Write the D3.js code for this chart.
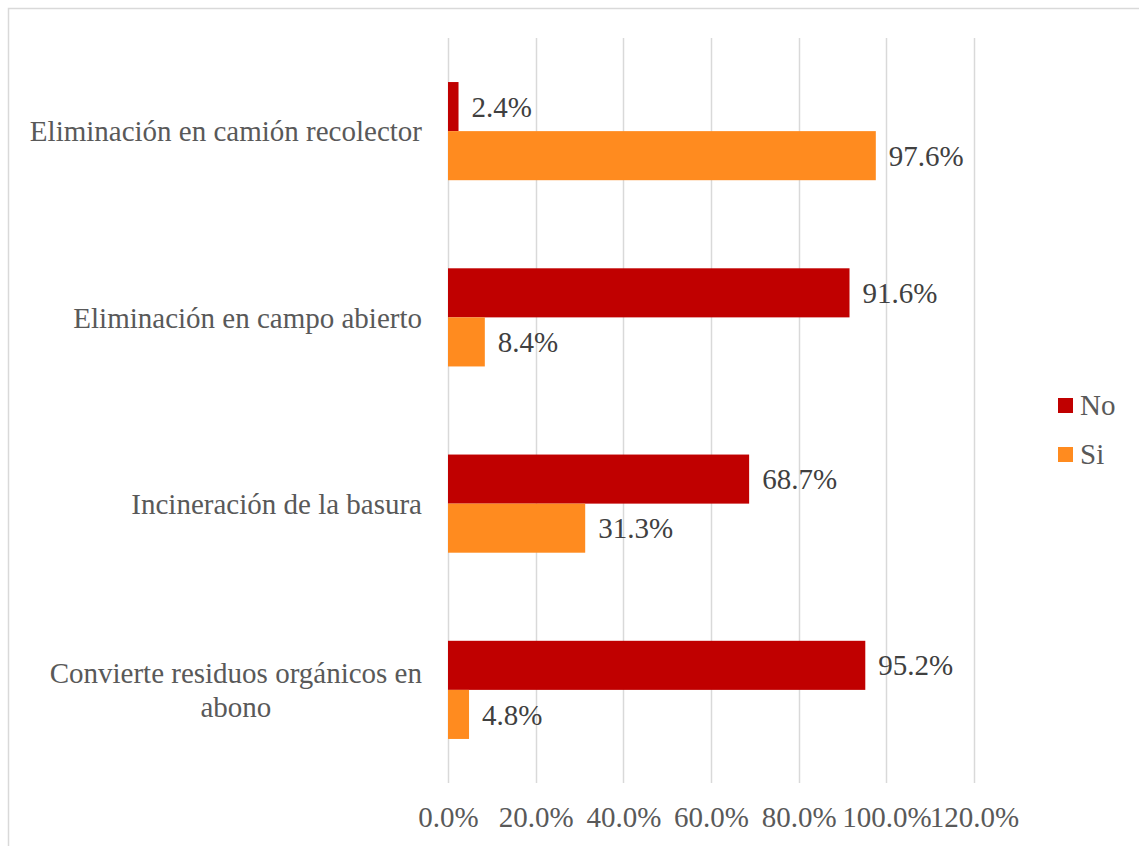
<!DOCTYPE html>
<html>
<head>
<meta charset="utf-8">
<script src="https://cdn.jsdelivr.net/npm/d3@7"></script>
<style>
  body { margin: 0; background: #fff; }
  text { font-family: "Liberation Serif", "Times New Roman", serif; }
</style>
</head>
<body>
<div id="chart"></div>
<script>
// data
var categories = [
  "Eliminación en camión recolector",
  "Eliminación en campo abierto",
  "Incineración de la basura",
  "Convierte residuos orgánicos en abono"
];
var seriesNames = ["No", "Si"];
var noValues = [0.024, 0.916, 0.687, 0.952];
var siValues = [0.976, 0.084, 0.313, 0.048];
var xTicks = [0, 0.2, 0.4, 0.6, 0.8, 1.0, 1.2];
var colors = ["#c00000", "#ff8b1f"];

var width = 1139, height = 846;
var fontSize = 29;

var svg = d3.select("#chart").append("svg")
  .attr("width", width)
  .attr("height", height);

// chart border (right/bottom run off the picture)
svg.append("rect")
  .attr("x", 8.5).attr("y", 8.5)
  .attr("width", 1200).attr("height", 900)
  .attr("fill", "#fff")
  .attr("stroke", "#d9d9d9")
  .attr("stroke-width", 1.5);

var x = d3.scaleLinear()
  .domain([0, 1.2])
  .range([448, 974]);

var y = d3.scaleBand()
  .domain(categories)
  .range([38, 783])
  .paddingInner(0.473)
  .paddingOuter(0.2365);

var ySub = d3.scaleBand()
  .domain(seriesNames)
  .range([0, y.bandwidth()]);

// gridlines
svg.append("g")
  .selectAll("line")
  .data(xTicks)
  .enter().append("line")
  .attr("x1", function(d) { return Math.round(x(d)) + 0.5; })
  .attr("x2", function(d) { return Math.round(x(d)) + 0.5; })
  .attr("y1", 38)
  .attr("y2", 783)
  .attr("stroke", "#d9d9d9")
  .attr("stroke-width", 1.5);

// x axis tick labels
var xAxis = d3.axisBottom(x)
  .tickValues(xTicks)
  .tickFormat(d3.format(".1%"))
  .tickSize(0)
  .tickPadding(0);

var gx = svg.append("g")
  .attr("transform", "translate(0,800)")
  .call(xAxis);
gx.select(".domain").remove();
gx.selectAll("text")
  .attr("dy", "0.71em")
  .attr("y", 6)
  .style("font-family", '"Liberation Serif", "Times New Roman", serif')
  .style("font-size", fontSize + "px")
  .style("fill", "#595959");

// bars
var rows = categories.map(function(c, i) {
  return { cat: c, vals: [
    { key: "No", v: noValues[i] },
    { key: "Si", v: siValues[i] }
  ]};
});

var groups = svg.selectAll(".cat")
  .data(rows)
  .enter().append("g")
  .attr("class", "cat")
  .attr("transform", function(d) { return "translate(0," + y(d.cat) + ")"; });

groups.selectAll("rect")
  .data(function(d) { return d.vals; })
  .enter().append("rect")
  .attr("x", x(0))
  .attr("y", function(d) { return ySub(d.key); })
  .attr("width", function(d) { return x(d.v) - x(0); })
  .attr("height", ySub.bandwidth())
  .attr("fill", function(d, i) { return colors[i]; });

groups.selectAll(".lbl")
  .data(function(d) { return d.vals; })
  .enter().append("text")
  .attr("class", "lbl")
  .attr("x", function(d) { return x(d.v) + 13; })
  .attr("y", function(d) { return ySub(d.key) + ySub.bandwidth() / 2; })
  .attr("dy", "0.35em")
  .style("font-size", fontSize + "px")
  .style("fill", "#404040")
  .text(function(d) { return d3.format(".1%")(d.v); });

// category labels, wrapped and right aligned
var catLabels = svg.append("g");
categories.forEach(function(c) {
  var t = catLabels.append("text")
    .style("font-size", fontSize + "px")
    .style("fill", "#595959")
    .attr("text-anchor", "middle");
  var words = c.split(" "), lines = [], line = [];
  var probe = catLabels.append("text").style("font-size", fontSize + "px");
  words.forEach(function(w) {
    line.push(w);
    probe.text(line.join(" "));
    if (probe.node().getComputedTextLength() > 410 && line.length > 1) {
      line.pop();
      lines.push(line.join(" "));
      line = [w];
    }
  });
  lines.push(line.join(" "));
  var maxW = 0;
  lines.forEach(function(l) {
    probe.text(l);
    maxW = Math.max(maxW, probe.node().getComputedTextLength());
  });
  probe.remove();
  var cx = 422 - maxW / 2;
  var cy = y(c) + y.bandwidth() / 2;
  var lh = 34;
  lines.forEach(function(l, i) {
    t.append("tspan")
      .attr("x", cx)
      .attr("y", cy + (i - (lines.length - 1) / 2) * lh)
      .attr("dy", "0.35em")
      .text(l);
  });
});

// legend
var legend = svg.append("g");
seriesNames.forEach(function(s, i) {
  legend.append("rect")
    .attr("x", 1058)
    .attr("y", 398 + i * 49)
    .attr("width", 15)
    .attr("height", 15)
    .attr("fill", colors[i]);
  legend.append("text")
    .attr("x", 1080)
    .attr("y", 405 + i * 49)
    .attr("dy", "0.35em")
    .style("font-size", fontSize + "px")
    .style("fill", "#595959")
    .text(s);
});
</script>
</body>
</html>
